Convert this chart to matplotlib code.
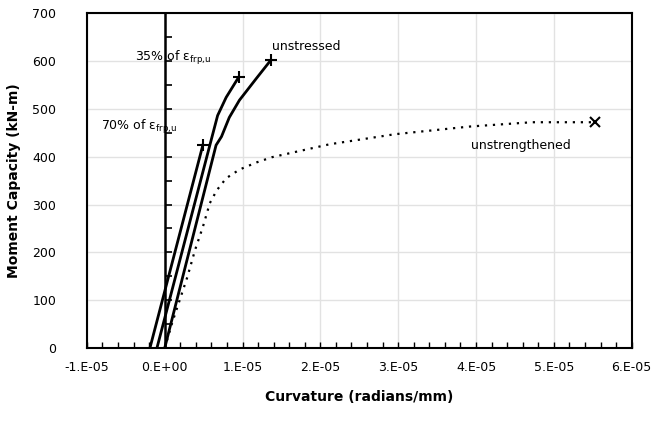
import matplotlib
matplotlib.use("Agg")
import matplotlib.pyplot as plt
from matplotlib import markers
from matplotlib.ticker import MultipleLocator, FuncFormatter
import numpy as np

# curvature (radians/mm) and moment (kN-m)
unstressed_x = [0.0, 0.66e-5, 0.73e-5, 0.83e-5, 0.96e-5, 1.18e-5, 1.36e-5]
unstressed_y = [0, 424, 442, 482, 518, 564, 601]
p35_x = [-0.10e-5, 0.58e-5, 0.68e-5, 0.79e-5, 0.95e-5]
p35_y = [0, 424, 486, 524, 566]
p70_x = [-0.19e-5, 0.49e-5]
p70_y = [0, 424]
unstr_x = [0.0, 0.10e-5, 0.29e-5, 0.39e-5, 0.49e-5, 0.58e-5, 0.67e-5, 0.79e-5,
           0.96e-5, 1.18e-5, 1.38e-5, 2.12e-5, 2.96e-5, 3.92e-5, 4.72e-5, 5.53e-5]
unstr_y = [0, 55, 148, 205, 253, 303, 330, 355, 373, 388, 399, 426, 447, 463, 472, 472]

plt.rcParams['font.family'] = ['DejaVu Sans']
fig = plt.figure(figsize=(6.58, 4.23), dpi=100)
ax = fig.add_axes([0.132, 0.177, 0.828, 0.792])

ax.plot(unstressed_x, unstressed_y, color='black', lw=2)
ax.plot(p35_x, p35_y, color='black', lw=2)
ax.plot(p70_x, p70_y, color='black', lw=2)
ax.plot(unstr_x, unstr_y, color='black', lw=1.6, ls=(0, (1, 2.6)))

# end markers
ax.plot(unstressed_x[-1], unstressed_y[-1], marker='+', color='black', ms=9, mew=1.5)
ax.plot(p35_x[-1], p35_y[-1], marker='+', color='black', ms=9, mew=1.5)
ax.plot(p70_x[-1], p70_y[-1], marker='+', color='black', ms=9, mew=1.5)
ax.plot(unstr_x[-1], unstr_y[-1], marker='x', color='black', ms=7, mew=1.5)

# y axis through zero with ticks
ax.axvline(0, color='black', lw=1.8)
yt = np.arange(0, 701, 50)
ax.plot(np.zeros(len(yt)), yt, ls='none', marker=markers.TICKRIGHT,
        color='black', ms=5, mew=1.2)

ax.set_xlim(-1e-5, 6e-5)
ax.set_ylim(0, 700)
ax.xaxis.set_major_locator(MultipleLocator(1e-5))
ax.xaxis.set_minor_locator(MultipleLocator(2e-6))
ax.yaxis.set_major_locator(MultipleLocator(100))


def sci(v, pos):
    m = int(round(v / 1e-5))
    if m == 0:
        return '0.E+00'
    return f'{m}.E-05'


ax.xaxis.set_major_formatter(FuncFormatter(sci))
ax.tick_params(axis='x', which='both', direction='in', length=4, width=1, labelsize=9, pad=9)
ax.tick_params(axis='y', which='both', length=0, labelsize=9, pad=22)
ax.grid(True, color='#e2e2e2', lw=1)
ax.set_axisbelow(True)
for s in ax.spines.values():
    s.set_linewidth(1.5)

ax.text(-0.385e-5, 607, r'35% of ε$_\mathregular{frp{,}u}$', fontsize=9, va='center')
ax.text(-0.82e-5, 461, r'70% of ε$_\mathregular{frp{,}u}$', fontsize=9, va='center')
ax.text(1.38e-5, 631, 'unstressed', fontsize=9, va='center')
ax.text(3.94e-5, 424, 'unstrengthened', fontsize=9, va='center')

ax.set_xlabel('Curvature (radians/mm)', fontsize=10, fontweight='bold', labelpad=12)
ax.set_ylabel('Moment Capacity (kN-m)', fontsize=10, fontweight='bold', labelpad=8)

fig.savefig('out.png', dpi=100)
